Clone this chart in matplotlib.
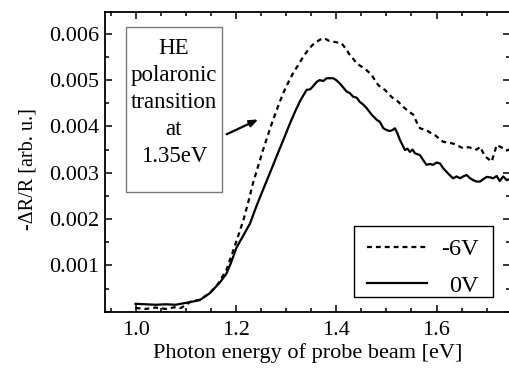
import matplotlib
matplotlib.use("Agg")
import matplotlib.pyplot as plt
from matplotlib.ticker import MultipleLocator, FixedLocator
from matplotlib.patches import Rectangle
from matplotlib.lines import Line2D

plt.rcParams['font.family'] = ['Liberation Serif', 'DejaVu Serif']

# 0V (solid)
x_0v = [1.00, 1.02, 1.04, 1.06, 1.08, 1.10, 1.11, 1.128, 1.148, 1.168, 1.181, 1.19,
        1.201, 1.215, 1.228, 1.241, 1.254, 1.268, 1.281, 1.295, 1.308, 1.318, 1.328,
        1.341, 1.348, 1.354, 1.361, 1.367, 1.374, 1.381, 1.394, 1.400, 1.407, 1.414,
        1.421, 1.427, 1.434, 1.441, 1.447, 1.454, 1.461, 1.471, 1.481, 1.487, 1.494,
        1.501, 1.507, 1.512, 1.517, 1.522, 1.527, 1.532, 1.537, 1.542, 1.547, 1.552,
        1.557, 1.562, 1.567, 1.573, 1.580, 1.587, 1.593, 1.600, 1.607, 1.613, 1.620,
        1.627, 1.633, 1.640, 1.647, 1.653, 1.660, 1.667, 1.673, 1.680, 1.687, 1.693,
        1.700, 1.707, 1.713, 1.720, 1.726, 1.733, 1.740, 1.750]
y_0v = [0.00017, 0.00016, 0.00015, 0.00016, 0.00015, 0.00019, 0.00021, 0.00025, 0.00040,
        0.00063, 0.00082, 0.00105, 0.00138, 0.00165, 0.00190, 0.00228, 0.00263, 0.00300,
        0.00335, 0.00372, 0.00407, 0.00432, 0.00455, 0.00479, 0.00480, 0.00487, 0.00496,
        0.00500, 0.00498, 0.00504, 0.00504, 0.00500, 0.00493, 0.00484, 0.00475, 0.00472,
        0.00464, 0.00462, 0.00453, 0.00447, 0.00439, 0.00425, 0.00414, 0.00410, 0.00396,
        0.00392, 0.00390, 0.00392, 0.00396, 0.00385, 0.00371, 0.00360, 0.00349, 0.00352,
        0.00345, 0.00350, 0.00342, 0.00340, 0.00338, 0.00328, 0.00317, 0.00319, 0.00317,
        0.00322, 0.00320, 0.00310, 0.00302, 0.00294, 0.00288, 0.00292, 0.00288, 0.00292,
        0.00295, 0.00288, 0.00284, 0.00281, 0.00281, 0.00286, 0.00291, 0.00290, 0.00288,
        0.00293, 0.00282, 0.00292, 0.00284, 0.00288]

# -6V (dashed)
x_6v = [1.00, 1.02, 1.04, 1.06, 1.08, 1.09, 1.10, 1.11, 1.128, 1.148, 1.165, 1.181,
        1.195, 1.205, 1.215, 1.225, 1.234, 1.244, 1.254, 1.264, 1.274, 1.284, 1.294,
        1.304, 1.314, 1.324, 1.334, 1.344, 1.352, 1.361, 1.369, 1.377, 1.385, 1.394,
        1.403, 1.411, 1.416, 1.421, 1.426, 1.431, 1.436, 1.441, 1.449, 1.457, 1.464,
        1.471, 1.478, 1.484, 1.490, 1.497, 1.504, 1.510, 1.517, 1.524, 1.530, 1.537,
        1.545, 1.554, 1.560, 1.567, 1.573, 1.580, 1.588, 1.597, 1.605, 1.613, 1.623,
        1.633, 1.643, 1.653, 1.663, 1.673, 1.680, 1.687, 1.692, 1.697, 1.703, 1.710,
        1.715, 1.720, 1.727, 1.733, 1.740, 1.750]
y_6v = [0.00008, 0.00006, 0.00009, 0.00006, 0.00010, 0.00008, 0.00014, 0.00022, 0.00026,
        0.00040, 0.00061, 0.00090, 0.00133, 0.00165, 0.00198, 0.00238, 0.00277, 0.00313,
        0.00349, 0.00382, 0.00414, 0.00443, 0.00471, 0.00494, 0.00515, 0.00532, 0.00550,
        0.00565, 0.00575, 0.00583, 0.00588, 0.00590, 0.00585, 0.00583, 0.00581, 0.00579,
        0.00572, 0.00565, 0.00556, 0.00550, 0.00543, 0.00536, 0.00530, 0.00525, 0.00518,
        0.00511, 0.00498, 0.00489, 0.00484, 0.00479, 0.00471, 0.00464, 0.00458, 0.00453,
        0.00446, 0.00439, 0.00432, 0.00425, 0.00410, 0.00396, 0.00394, 0.00392, 0.00386,
        0.00381, 0.00374, 0.00367, 0.00365, 0.00363, 0.00358, 0.00353, 0.00355, 0.00353,
        0.00350, 0.00356, 0.00345, 0.00335, 0.00330, 0.00324, 0.00342, 0.00360, 0.00356,
        0.00353, 0.00348, 0.00352]

x_ticks = [1.0, 1.2, 1.4, 1.6]
x_ticklabels = ["1.0", "1.2", "1.4", "1.6"]
y_ticks = [0.001, 0.002, 0.003, 0.004, 0.005, 0.006]
y_ticklabels = ["0.001", "0.002", "0.003", "0.004", "0.005", "0.006"]
series_labels = ["-6V", "0V"]
note_text = "HE\npolaronic\ntransition\nat\n1.35eV"

W, H = 510, 369


def fpx(x, y):
    """pixel (from top-left) -> figure fraction"""
    return x / W, 1 - y / H


fig = plt.figure(figsize=(W / 100, H / 100), dpi=100)
ax = fig.add_axes([105 / W, (H - 311.7) / H, 405 / W, 299.7 / H])

dash = (0, (2.2, 1.8))
ax.plot(x_6v, y_6v, color='black', lw=1.6, linestyle=dash)
ax.plot(x_0v, y_0v, color='black', lw=1.6, linestyle='-')

ax.set_xlim(0.939, 1.7465)
ax.set_ylim(0, 0.00647)
ax.xaxis.set_major_locator(FixedLocator(x_ticks))
ax.set_xticklabels(x_ticklabels)
ax.xaxis.set_minor_locator(MultipleLocator(0.05))
ax.yaxis.set_major_locator(FixedLocator(y_ticks))
ax.set_yticklabels(y_ticklabels)
ax.yaxis.set_minor_locator(MultipleLocator(0.0005))

ax.tick_params(which='both', direction='in', top=True, right=True, labelsize=16, width=1.1)
ax.tick_params(which='major', length=5)
ax.tick_params(which='minor', length=3)
ax.tick_params(axis='x', pad=7)
ax.tick_params(axis='y', pad=4)
for s in ax.spines.values():
    s.set_linewidth(1.3)
ax.spines['right'].set_visible(False)

ax.set_xlabel("Photon energy of probe beam [eV]", fontsize=16, labelpad=2)
ax.set_ylabel("-ΔR/R [arb. u.]", fontsize=14.5)
ax.yaxis.set_label_coords((37 - 105) / 405, (311.7 - 169.5) / 299.7)

# annotation box
bx0, by0 = fpx(126, 191.7)
bx1, by1 = fpx(221.7, 27.3)
fig.patches.append(Rectangle((bx0, by0), bx1 - bx0, by1 - by0, transform=fig.transFigure,
                             facecolor='white', edgecolor='#7a7a7a', lw=1.0, zorder=3))
tx, ty = fpx(174, 161.7)
fig.text(tx, ty, note_text, ha='center', va='baseline', fontsize=16.5,
         linespacing=1.37, multialignment='center', zorder=4)

ax.annotate("", xy=(1.2445, 0.00415), xytext=(1.1815, 0.00383),
            arrowprops=dict(arrowstyle='-|>,head_length=0.5,head_width=0.2',
                            color='black', lw=1.6, shrinkA=0, shrinkB=0))

# legend (drawn as a framed key)
lx0, ly0 = fpx(354.3, 297.3)
lx1, ly1 = fpx(492.7, 225.7)
fig.patches.append(Rectangle((lx0, ly0), lx1 - lx0, ly1 - ly0, transform=fig.transFigure,
                             facecolor='white', edgecolor='black', lw=1.0, zorder=3))
rows_y = [246.7, 283.3]
base_y = [255.0, 291.7]
styles = [dash, '-']
for lab, ry, by, st in zip(series_labels, rows_y, base_y, styles):
    (hx0, hy), (hx1, _) = fpx(366.7, ry), fpx(427.3, ry)
    fig.lines.append(Line2D([hx0, hx1], [hy, hy], transform=fig.transFigure,
                            color='black', lw=1.6, linestyle=st, zorder=4))
    tx, ty = fpx(478.5, by)
    fig.text(tx, ty, lab, ha='right', va='baseline', fontsize=17.5, zorder=4)

fig.savefig("out.png", dpi=100)
